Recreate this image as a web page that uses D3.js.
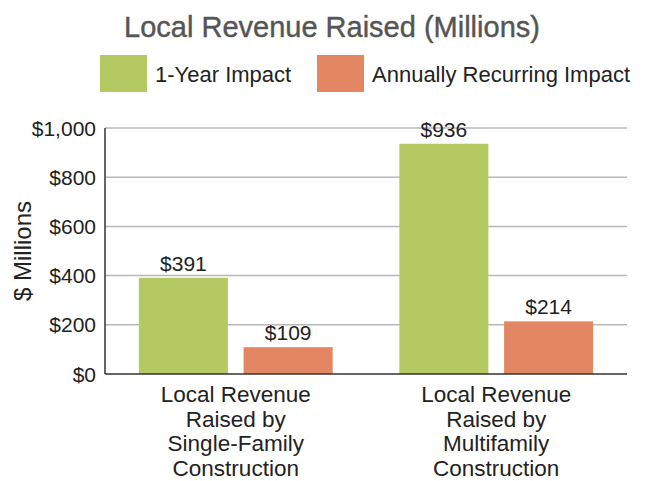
<!DOCTYPE html>
<html>
<head>
<meta charset="utf-8">
<script src="https://cdn.jsdelivr.net/npm/d3@7"></script>
<style>
  body { margin: 0; background: #fff; }
  text { font-family: "Liberation Sans", Arial, sans-serif; }
</style>
</head>
<body>
<div id="chart"></div>
<script>
// data
var categories = [
  ["Local Revenue", "Raised by", "Single-Family", "Construction"],
  ["Local Revenue", "Raised by", "Multifamily", "Construction"]
];
var seriesNames = ["1-Year Impact", "Annually Recurring Impact"];
var oneYear = [391, 936];
var recurring = [109, 214];
var yTicks = [0, 200, 400, 600, 800, 1000];
var colors = ["#b5c962", "#e38662"];

var W = 647, H = 481;

var svg = d3.select("#chart").append("svg")
  .attr("width", W).attr("height", H);

// title
svg.append("text")
  .attr("x", 332).attr("y", 37)
  .attr("text-anchor", "middle")
  .style("font-size", "29px")
  .style("fill", "#555").style("stroke", "#555").style("stroke-width", 0.4)
  .text("Local Revenue Raised (Millions)");

// legend
var legendX = [100, 317];
seriesNames.forEach(function(name, i) {
  var g = svg.append("g").attr("transform", "translate(" + legendX[i] + ",55)");
  g.append("rect").attr("width", 47).attr("height", 37).attr("fill", colors[i]);
  g.append("text").attr("x", 55).attr("y", 27)
    .style("font-size", "22px").style("fill", "#222").text(name);
});

var y = d3.scaleLinear().domain([0, 1000]).range([374, 128]);
var x0 = d3.scaleBand().domain(d3.range(categories.length))
  .range([105, 627]).paddingInner(0.256).paddingOuter(0.13);
var x1 = d3.scaleBand().domain(d3.range(seriesNames.length))
  .range([0, x0.bandwidth()]).paddingInner(0.15);

// gridlines
svg.append("g").selectAll("line").data(yTicks.slice(1)).enter().append("line")
  .attr("x1", 105).attr("x2", 627)
  .attr("y1", function(d) { return y(d); }).attr("y2", function(d) { return y(d); })
  .attr("stroke", "#b8b8b8").attr("stroke-width", 1.5);

// y labels
svg.append("g").selectAll("text").data(yTicks).enter().append("text")
  .attr("x", 96).attr("y", function(d) { return y(d) + 7.5; })
  .attr("text-anchor", "end")
  .style("font-size", "21px").style("fill", "#222")
  .text(function(d) { return "$" + d3.format(",")(d); });

svg.append("text")
  .attr("transform", "translate(31,251) rotate(-90)")
  .attr("text-anchor", "middle")
  .style("font-size", "24px").style("fill", "#222")
  .text("$ Millions");

// bars
var values = [oneYear, recurring];
var groups = svg.append("g").selectAll("g").data(categories).enter().append("g")
  .attr("transform", function(d, i) { return "translate(" + x0(i) + ",0)"; });

groups.each(function(c, ci) {
  var g = d3.select(this);
  values.forEach(function(arr, si) {
    g.append("rect")
      .attr("x", x1(si)).attr("width", x1.bandwidth())
      .attr("y", y(arr[ci])).attr("height", y(0) - y(arr[ci]))
      .attr("fill", colors[si]);
    g.append("text")
      .attr("x", x1(si) + x1.bandwidth() / 2).attr("y", y(arr[ci]) - 7)
      .attr("text-anchor", "middle")
      .style("font-family", "'Liberation Sans Narrow', 'Liberation Sans', sans-serif")
      .style("font-size", "21px").style("fill", "#222")
      .text("$" + arr[ci]);
  });
  // category label
  var t = g.append("text").attr("text-anchor", "middle")
    .style("font-size", "22.5px").style("fill", "#222");
  c.forEach(function(line, li) {
    t.append("tspan").attr("x", x0.bandwidth() / 2).attr("y", 402 + li * 24.6).text(line);
  });
});

// axes lines
svg.append("line").attr("x1", 105).attr("x2", 105).attr("y1", 128).attr("y2", 374)
  .attr("stroke", "#333").attr("stroke-width", 1.5);
svg.append("line").attr("x1", 105).attr("x2", 627).attr("y1", 374).attr("y2", 374)
  .attr("stroke", "#333").attr("stroke-width", 1.5);
</script>
</body>
</html>
